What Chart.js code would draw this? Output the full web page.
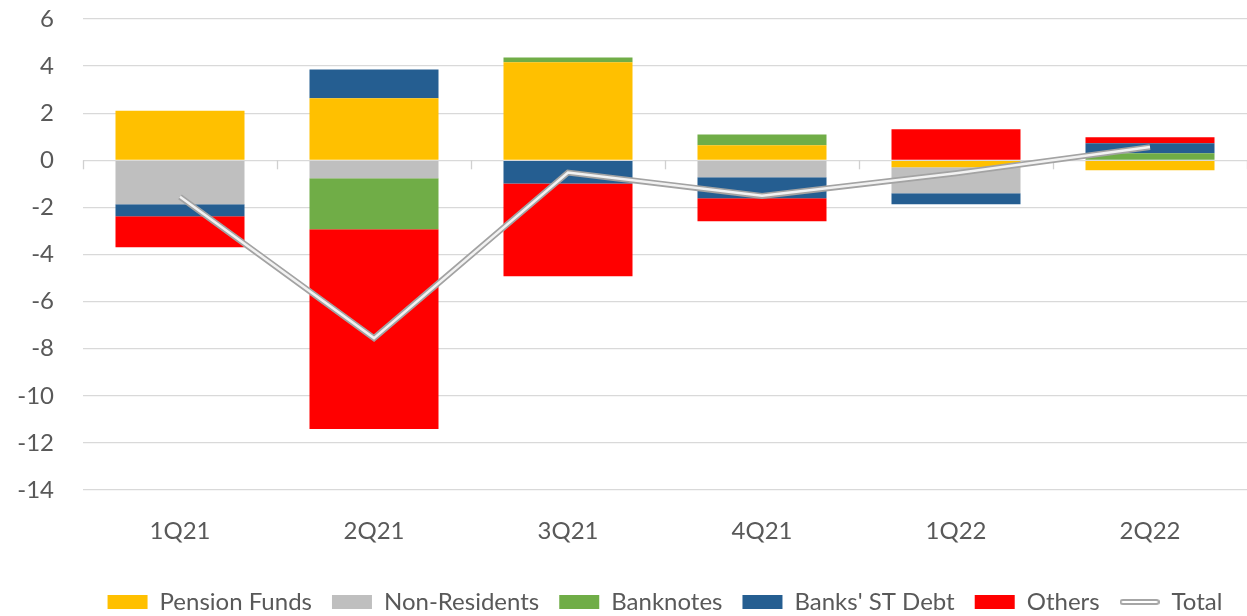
<!DOCTYPE html>
<html>
<head>
<meta charset="utf-8">
<script src="https://cdn.jsdelivr.net/npm/chart.js@4/dist/chart.umd.min.js"></script>
<style>
  html, body { margin: 0; padding: 0; background: #fff; }
  #wrap { width: 1247px; height: 616px; }
</style>
</head>
<body>
<div id="wrap"><canvas id="chart"></canvas></div>
<script>
var quarters = ["1Q21", "2Q21", "3Q21", "4Q21", "1Q22", "2Q22"];
var pensionFunds = [2.1, 2.63, 4.16, 0.64, -0.3, -0.42];
var nonResidents = [-1.87, -0.76, 0, -0.72, -1.1, 0];
var banknotes = [0, -2.17, 0.21, 0.46, 0, 0.3];
var banksDebt = [-0.51, 1.23, -0.98, -0.89, -0.47, 0.42];
var others = [-1.31, -8.48, -3.94, -0.98, 1.32, 0.26];
var total = [-1.55, -7.55, -0.52, -1.51, -0.55, 0.56];
var yTicks = [6, 4, 2, 0, -2, -4, -6, -8, -10, -12, -14];

var font = "Lato, 'Open Sans', sans-serif";
var textColor = "#595959";

// little picture for the Total legend entry (double line)
var totalIcon = document.createElement("canvas");
totalIcon.width = 40;
totalIcon.height = 8;
var ic = totalIcon.getContext("2d");
ic.fillStyle = "#a6a6a6";
ic.beginPath();
ic.roundRect(0, 1, 40, 6, 3);
ic.fill();
ic.fillStyle = "#ffffff";
ic.beginPath();
ic.roundRect(2, 3, 36, 2, 1);
ic.fill();

function bar(label, data, color) {
  return {
    type: "bar",
    label: label,
    data: data,
    backgroundColor: color,
    borderWidth: 0,
    stack: "bars",
    order: 2,
    barPercentage: 0.665,
    categoryPercentage: 1,
  };
}

// small tick marks on the zero line between the quarters
var zeroTicks = {
  id: "zeroTicks",
  beforeDatasetsDraw: function (c) {
    var x = c.scales.x, y = c.scales.y;
    var y0 = y.getPixelForValue(0);
    var step = (x.right - x.left) / quarters.length;
    c.ctx.save();
    c.ctx.strokeStyle = "#d0d0d0";
    c.ctx.lineWidth = 1.3;
    for (var i = 0; i <= quarters.length; i++) {
      var px = Math.round(x.left + i * step) + 0.5;
      c.ctx.beginPath();
      c.ctx.moveTo(px, y0);
      c.ctx.lineTo(px, y0 + 9);
      c.ctx.stroke();
    }
    c.ctx.restore();
  },
};

var ctx = document.getElementById("chart").getContext("2d");
var chart = new Chart(ctx, {
  data: {
    labels: quarters,
    datasets: [
      bar("Pension Funds", pensionFunds, "#ffc000"),
      bar("Non-Residents", nonResidents, "#bfbfbf"),
      bar("Banknotes", banknotes, "#70ad47"),
      bar("Banks' ST Debt", banksDebt, "#255e91"),
      bar("Others", others, "#ff0000"),
      {
        type: "line",
        label: "Total",
        data: total,
        borderColor: "#a3a3a3",
        borderWidth: 6,
        pointRadius: 0,
        stack: "t1",
        order: 1,
      },
      {
        type: "line",
        label: "TotalInner",
        data: total,
        borderColor: "#f2f2f2",
        borderWidth: 2.5,
        pointRadius: 0,
        stack: "t2",
        order: 0,
      },
    ],
  },
  plugins: [zeroTicks],
  options: {
    responsive: true,
    maintainAspectRatio: false,
    animation: false,
    layout: { autoPadding: false, padding: { top: 19, right: 0, left: 0, bottom: -8 } },
    scales: {
      x: {
        stacked: true,
        grid: { display: false, drawTicks: false },
        border: { display: false },
        ticks: { color: textColor, font: { family: font, size: 24 }, padding: 27 },
        afterFit: function (scale) { scale.height = 80; },
      },
      y: {
        stacked: true,
        min: -14,
        max: 6,
        afterBuildTicks: function (scale) {
          scale.ticks = yTicks.map(function (v) { return { value: v }; });
        },
        grid: { color: "#d9d9d9", lineWidth: 1.3, drawTicks: false },
        border: { display: false },
        ticks: { color: textColor, font: { family: font, size: 24 }, padding: 29 },
        afterFit: function (scale) {
          scale.width = 83;
          scale.paddingTop = 0;
          scale.paddingBottom = 0;
        },
      },
    },
    plugins: {
      tooltip: { enabled: false },
      legend: {
        position: "bottom",
        fullSize: false,
        labels: {
          color: textColor,
          font: { family: font, size: 24 },
          usePointStyle: true,
          pointStyleWidth: 40,
          boxHeight: 14,
          padding: 20,
          filter: function (item) { return item.text !== "TotalInner"; },
          generateLabels: function (c) {
            var items = Chart.defaults.plugins.legend.labels.generateLabels(c);
            items.sort(function (a, b) { return a.datasetIndex - b.datasetIndex; });
            items.forEach(function (it) {
              if (it.text === "Total") {
                it.pointStyle = totalIcon;
              } else {
                it.pointStyle = "rect";
                it.lineWidth = 0;
              }
            });
            return items;
          },
        },
      },
    },
  },
});
</script>
</body>
</html>
